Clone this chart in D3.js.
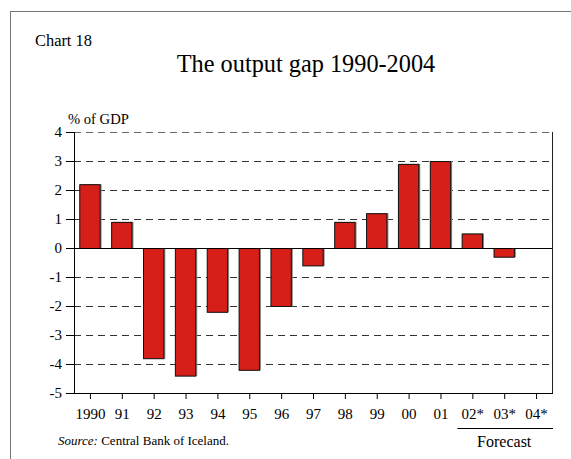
<!DOCTYPE html>
<meta charset="utf-8">
<style>
  body{margin:0;background:#fff;}
  svg text{font-family:"Liberation Serif","Times New Roman",Tinos,"DejaVu Serif",serif !important;fill:#000;}
</style>
<div id="chart"></div>
<script src="https://d3js.org/d3.v7.min.js"></script>
<script>
var years = ["1990","91","92","93","94","95","96","97","98","99","00","01","02*","03*","04*"];
var gap = [2.2, 0.9, -3.8, -4.4, -2.2, -4.2, -2.0, -0.6, 0.9, 1.2, 2.9, 3.0, 0.5, -0.3, 0];
var yTicks = [4, 3, 2, 1, 0, -1, -2, -3, -4, -5];
var forecastYears = ["02*","03*","04*"];

var serif = "'Liberation Serif', 'Times New Roman', serif";

var svg = d3.select("#chart").append("svg").attr("width", 571).attr("height", 459)
        .style("font-family", serif),
    margin = {top: 132, right: 19, bottom: 66, left: 74},
    width = 571 - margin.left - margin.right,
    height = 459 - margin.top - margin.bottom;

// outer frame
svg.append("rect")
    .attr("x", 10.5).attr("y", 11.5)
    .attr("width", 600).attr("height", 500)
    .attr("fill", "none").attr("stroke", "#777").attr("stroke-width", 1);

svg.append("text").attr("x", 35).attr("y", 46).attr("font-size", 16.4).text("Chart 18");
svg.append("text").attr("x", 306).attr("y", 72).attr("font-size", 24.3)
    .attr("text-anchor", "middle").text("The output gap 1990-2004");
svg.append("text").attr("x", 68).attr("y", 124).attr("font-size", 14.6).text("% of GDP");

var g = svg.append("g").attr("transform", "translate(" + margin.left + "," + margin.top + ")");

var x = d3.scaleBand().domain(years).range([0, width]).paddingInner(0.33).paddingOuter(0.165);
var xc = d3.scalePoint().domain(years).range([0, width]).padding(0.5);
var y = d3.scaleLinear().domain([-5, 4]).range([height, 0]);

// dashed gridlines
g.selectAll(".grid")
    .data(yTicks.filter(function(d) { return d !== 0 && d !== -5; }))
  .enter().append("line")
    .attr("x1", 0).attr("x2", width)
    .attr("y1", function(d) { return y(d) + 0.5; })
    .attr("y2", function(d) { return y(d) + 0.5; })
    .attr("stroke", function(d) { return d === 4 ? "#666" : "#333"; })
    .attr("stroke-width", 1)
    .attr("stroke-dasharray", "7,5");

// bars with slight shadow
g.selectAll(".shadow")
    .data(gap)
  .enter().append("rect")
    .attr("x", function(d, i) { return x(years[i]) + 1; })
    .attr("y", function(d) { return y(Math.max(0, d)); })
    .attr("width", x.bandwidth())
    .attr("height", function(d) { return Math.abs(y(d) - y(0)) + 0.5; })
    .attr("fill", "#888");

g.selectAll(".bar")
    .data(gap)
  .enter().append("rect")
    .attr("x", function(d, i) { return x(years[i]) + 0.5; })
    .attr("y", function(d) { return y(Math.max(0, d)) + 0.5; })
    .attr("width", x.bandwidth() - 1)
    .attr("height", function(d) { return Math.abs(y(d) - y(0)); })
    .attr("fill", "#d71f19")
    .attr("stroke", "#111")
    .attr("stroke-width", 1);

// zero line
g.append("line")
    .attr("x1", 0).attr("x2", width)
    .attr("y1", y(0) + 0.5).attr("y2", y(0) + 0.5)
    .attr("stroke", "#000").attr("stroke-width", 1);

// frame: left, right, bottom
g.append("line").attr("x1", 0.5).attr("x2", 0.5).attr("y1", 0).attr("y2", height)
    .attr("stroke", "#000");
g.append("line").attr("x1", width + 0.5).attr("x2", width + 0.5).attr("y1", 0).attr("y2", height)
    .attr("stroke", "#222");
g.append("line").attr("x1", 0).attr("x2", width + 1).attr("y1", height + 0.5).attr("y2", height + 0.5)
    .attr("stroke", "#000");

// y axis
var yAxis = g.append("g")
    .call(d3.axisLeft(y).tickValues(yTicks).tickSize(8).tickPadding(4)
        .tickFormat(function(d) { return String(d); }));
yAxis.attr("font-family", null).attr("font-size", null);
yAxis.select(".domain").remove();
yAxis.selectAll("line").attr("stroke", "#000");
yAxis.selectAll("text").attr("font-size", 15).attr("fill", "#000");

// x axis
var xAxis = g.append("g")
    .attr("transform", "translate(0," + height + ")")
    .call(d3.axisBottom(xc).tickSize(6).tickPadding(9));
xAxis.attr("font-family", null).attr("font-size", null);
xAxis.select(".domain").remove();
xAxis.selectAll("line").attr("stroke", "#000");
xAxis.selectAll("text").attr("font-size", 15).attr("fill", "#000");

// forecast bracket
var fx0 = xc(forecastYears[0]) - x.step() * 0.47,
    fx1 = width;
g.append("line")
    .attr("x1", fx0).attr("x2", fx1 + 1)
    .attr("y1", height + 35.5).attr("y2", height + 35.5)
    .attr("stroke", "#000");
g.append("text")
    .attr("x", (xc(forecastYears[0]) + xc(forecastYears[2])) / 2)
    .attr("y", height + 54)
    .attr("text-anchor", "middle").attr("font-size", 16)
    .text("Forecast");

// source
var src = svg.append("text").attr("x", 58).attr("y", 445).attr("font-size", 13);
src.append("tspan").attr("font-style", "italic").text("Source:");
src.append("tspan").text(" Central Bank of Iceland.");
</script>
